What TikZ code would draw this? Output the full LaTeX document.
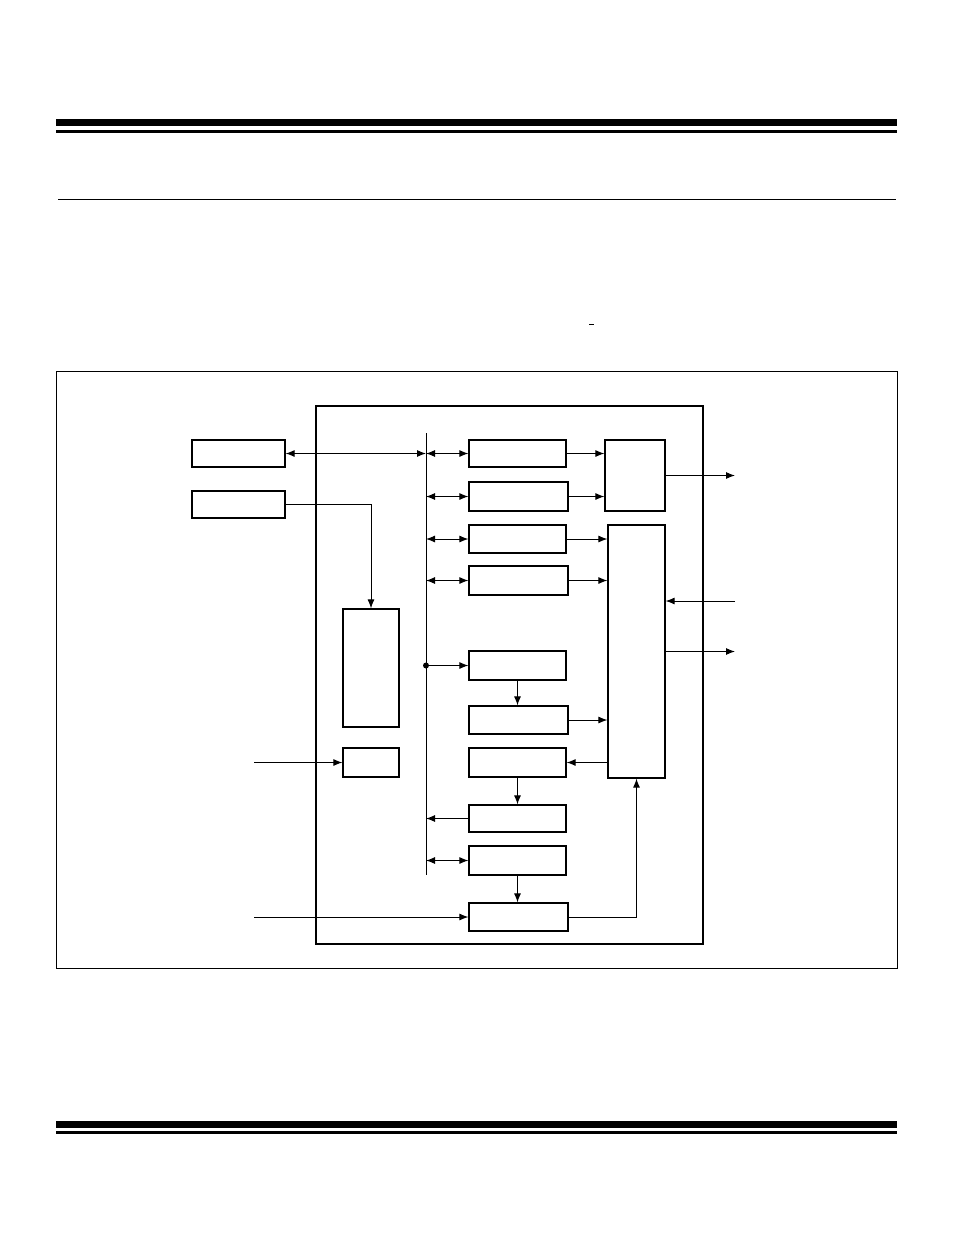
\documentclass[tikz,border=0pt]{standalone}
\usepackage{tikz}
\usetikzlibrary{arrows.meta}
\usetikzlibrary{calc}

\begin{document}
\begin{tikzpicture}[x=1pt,y=-1pt,
    blk/.style={draw, rectangle, line width=1.2pt, inner sep=0pt},
    >={Latex[length=9pt,width=7pt]}, line width=1pt]
        \useasboundingbox (0,0) rectangle (954,1235);

        % page rules
        \fill (56,119) rectangle (897,125.5);
        \fill (56,130) rectangle (897,132.5);
        \draw (58,199.3) -- (896,199.3);
        \draw (589,324.5) -- (594,324.5);
        \fill (56,1121) rectangle (897,1127.5);
        \fill (56,1131) rectangle (897,1133.5);

        % frames
        \draw (56.5,371.5) rectangle (897.5,968.5);
        \draw[line width=2.2pt] (316,406) rectangle (703,944);

        % left blocks
        \node[blk, minimum width=93pt, minimum height=27pt](bA) at (238.5,453.5){};
        \node[blk, minimum width=93pt, minimum height=27pt](bB) at (238.5,504.5){};
        \node[blk, minimum width=56pt, minimum height=118pt](tall) at (371,668){};
        \node[blk, minimum width=56pt, minimum height=29pt](small) at (371,762.5){};

        % middle column
        \node[blk, minimum width=97pt, minimum height=27pt](m1) at (517.5,453.5){};
        \node[blk, minimum width=99pt, minimum height=29pt](m2) at (518.5,496.5){};
        \node[blk, minimum width=97pt, minimum height=28pt](m3) at (517.5,539){};
        \node[blk, minimum width=99pt, minimum height=29pt](m4) at (518.5,580.5){};
        \node[blk, minimum width=97pt, minimum height=29pt](m5) at (517.5,665.5){};
        \node[blk, minimum width=99pt, minimum height=28pt](m6) at (518.5,720){};
        \node[blk, minimum width=97pt, minimum height=29pt](m7) at (517.5,762.5){};
        \node[blk, minimum width=97pt, minimum height=27pt](m8) at (517.5,818.5){};
        \node[blk, minimum width=97pt, minimum height=29pt](m9) at (517.5,860.5){};
        \node[blk, minimum width=99pt, minimum height=28pt](m10) at (518.5,917){};

        % right blocks
        \node[blk, minimum width=60pt, minimum height=71pt](r1) at (635,475.5){};
        \node[blk, minimum width=57pt, minimum height=253pt](r2) at (636.5,651.5){};

        % bus and outside ends
        \coordinate (busT) at (426,433);
        \coordinate (busB) at (426,875);
        \coordinate (inS) at (254,762.5);
        \coordinate (inT) at (254,917);
        \coordinate (out1) at (735,475.5);
        \coordinate (in2) at (735,601);
        \coordinate (out2) at (735,651.5);

        \draw (busT) -- (busB);
        \draw[<->] (bA.east) -- (bA.east -| busT);
        \draw[->] (bB.east) -| (tall.north);
        \draw[->] (inS) -- (small.west);

        \draw[<->] (m1.west -| busT) -- (m1.west);
        \draw[<->] (m2.west -| busT) -- (m2.west);
        \draw[<->] (m3.west -| busT) -- (m3.west);
        \draw[<->] (m4.west -| busT) -- (m4.west);
        \fill (m5.west -| busT) circle (3);
        \draw[->] (m5.west -| busT) -- (m5.west);
        \draw[->] (m8.west) -- (m8.west -| busT);
        \draw[<->] (m9.west -| busT) -- (m9.west);

        \draw[->] (m5.south) -- (m5.south |- m6.north);
        \draw[->] (m7.south) -- (m7.south |- m8.north);
        \draw[->] (m9.south) -- (m9.south |- m10.north);
        \draw[->] (inT) -- (m10.west);
        \draw[->] (m10.east) -| (r2.south);

        \draw[->] (m1.east) -- (m1.east -| r1.west);
        \draw[->] (m2.east) -- (m2.east -| r1.west);
        \draw[->] (m3.east) -- (m3.east -| r2.west);
        \draw[->] (m4.east) -- (m4.east -| r2.west);
        \draw[->] (m6.east) -- (m6.east -| r2.west);
        \draw[->] (m7.east -| r2.west) -- (m7.east);

        \draw[->] (r1.east) -- (out1);
        \draw[->] (in2) -- (in2 -| r2.east);
        \draw[->] (r2.east) -- (out2);

      \end{tikzpicture}
\end{document}
